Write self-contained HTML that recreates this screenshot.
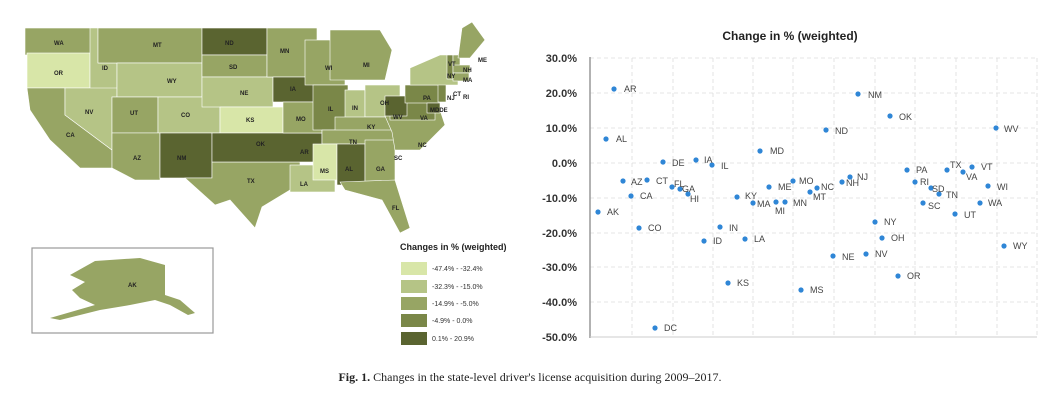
<!DOCTYPE html>
<html><head><meta charset="utf-8"><style>
html,body{margin:0;padding:0;background:#fff;width:1058px;height:404px;overflow:hidden}
svg{display:block}
.sl{font:bold 6px "Liberation Sans",sans-serif;fill:#222}
.pl{font:9px "Liberation Sans",sans-serif;fill:#444}
.yl{font:bold 11px "Liberation Sans",sans-serif;fill:#333}
</style></head><body>
<svg width="1058" height="404" viewBox="0 0 1058 404" xmlns="http://www.w3.org/2000/svg">
<g stroke="#fff" stroke-width="0.6">
<!-- west -->
<rect x="25" y="28" width="70" height="27" fill="#97a564"/>
<rect x="27" y="53" width="63" height="35" fill="#d8e6a8"/>
<polygon points="27,88 65,88 65,115 112,150 112,168 80,168 50,140 30,110" fill="#97a564"/>
<polygon points="90,28 98,28 98,63 117,63 117,97 90,97 90,88" fill="#b5c486"/>
<polygon points="65,88 117,88 117,97 112,97 112,150 65,115" fill="#b5c486"/>
<rect x="98" y="28" width="104" height="35" fill="#97a564"/>
<rect x="117" y="63" width="85" height="34" fill="#b5c486"/>
<rect x="112" y="97" width="46" height="36" fill="#97a564"/>
<rect x="158" y="97" width="62" height="36" fill="#b5c486"/>
<polygon points="112,133 160,133 160,180 135,180 112,168" fill="#97a564"/>
<rect x="160" y="133" width="52" height="45" fill="#5a6430"/>
<rect x="202" y="28" width="65" height="27" fill="#5a6430"/>
<rect x="202" y="55" width="65" height="22" fill="#97a564"/>
<rect x="202" y="77" width="71" height="30" fill="#b5c486"/>
<rect x="220" y="107" width="63" height="26" fill="#d8e6a8"/>
<polygon points="212,178 185,178 215,205 230,200 255,228 262,207 290,190 300,175 300,162 212,162" fill="#97a564"/>
<rect x="212" y="133" width="110" height="29" fill="#5a6430"/>
<!-- central -->
<rect x="267" y="28" width="50" height="49" fill="#97a564"/>
<rect x="273" y="77" width="47" height="25" fill="#5a6430"/>
<rect x="283" y="102" width="39" height="31" fill="#97a564"/>
<rect x="305" y="40" width="40" height="45" fill="#97a564"/>
<polygon points="330,30 380,30 392,50 385,80 330,80" fill="#97a564"/>
<rect x="313" y="85" width="35" height="45" fill="#7a8748"/>
<rect x="345" y="90" width="20" height="35" fill="#b5c486"/>
<rect x="365" y="85" width="35" height="32" fill="#b5c486"/>
<rect x="335" y="117" width="65" height="15" fill="#97a564"/>
<rect x="322" y="130" width="73" height="14" fill="#97a564"/>
<rect x="290" y="165" width="45" height="27" fill="#b5c486"/>
<rect x="313" y="144" width="24" height="36" fill="#d8e6a8"/>
<rect x="337" y="144" width="28" height="41" fill="#5a6430"/>
<rect x="365" y="140" width="30" height="42" fill="#97a564"/>
<polygon points="340,182 395,180 410,228 400,233 382,200 345,190" fill="#97a564"/>
<polygon points="385,116 440,110 445,125 420,150 395,150 392,132" fill="#97a564"/>
<rect x="390" y="100" width="45" height="20" fill="#7a8748"/>
<rect x="385" y="96" width="22" height="20" fill="#5a6430"/>
<rect x="405" y="85" width="35" height="18" fill="#7a8748"/>
<rect x="427" y="103" width="13" height="10" fill="#5a6430"/>
<rect x="438" y="80" width="8" height="22" fill="#7a8748"/>
<polygon points="410,85 410,68 440,55 458,55 458,85" fill="#b5c486"/>
<rect x="447" y="55" width="6" height="24" fill="#7a8748"/>
<rect x="453" y="55" width="7" height="12" fill="#97a564"/>
<polygon points="458,58 462,28 472,22 485,40 470,58" fill="#97a564"/>
<rect x="453" y="65" width="17" height="8" fill="#97a564"/>
<rect x="453" y="73" width="16" height="8" fill="#97a564"/>
</g>
<g class="sl">
<text x="54" y="45">WA</text><text x="54" y="75">OR</text><text x="66" y="137">CA</text><text x="102" y="70">ID</text>
<text x="85" y="114">NV</text><text x="153" y="47">MT</text><text x="167" y="83">WY</text><text x="130" y="115">UT</text>
<text x="181" y="117">CO</text><text x="133" y="160">AZ</text><text x="177" y="160">NM</text><text x="225" y="45">ND</text>
<text x="229" y="69">SD</text><text x="240" y="95">NE</text><text x="246" y="122">KS</text><text x="256" y="146">OK</text>
<text x="300" y="154">AR</text><text x="247" y="183">TX</text><text x="280" y="53">MN</text><text x="290" y="91">IA</text>
<text x="296" y="121">MO</text><text x="325" y="70">WI</text><text x="363" y="67">MI</text><text x="328" y="111">IL</text>
<text x="352" y="110">IN</text><text x="380" y="105">OH</text><text x="367" y="129">KY</text><text x="349" y="144">TN</text>
<text x="320" y="173">MS</text><text x="300" y="186">LA</text><text x="345" y="171">AL</text><text x="376" y="171">GA</text>
<text x="394" y="160">SC</text><text x="418" y="147">NC</text><text x="393" y="119">WV</text><text x="420" y="120">VA</text>
<text x="423" y="100">PA</text><text x="430" y="112">MDDE</text><text x="447" y="100">NJ</text><text x="447" y="78">NY</text>
<text x="478" y="62">ME</text><text x="463" y="72">NH</text><text x="463" y="82">MA</text><text x="453" y="96">CT</text><text x="463" y="99">RI</text>
<text x="448" y="66">VT</text><text x="392" y="210">FL</text>
</g>
<!-- Alaska -->
<rect x="32" y="248" width="181" height="85" fill="#fff" stroke="#999" stroke-width="1.2"/>
<polygon points="70,275 95,261 140,258 165,265 165,295 180,300 195,313 188,315 170,305 155,300 130,305 100,310 60,320 50,318 95,305 80,298 72,290 85,282" fill="#97a564"/>
<text class="sl" x="128" y="287">AK</text>
<!-- legend -->
<text x="400" y="250" style="font:bold 9px 'Liberation Sans',sans-serif;fill:#222">Changes in % (weighted)</text>
<rect x="401" y="262" width="26" height="13" fill="#d8e6a8"/><rect x="401" y="280" width="26" height="13" fill="#b5c486"/>
<rect x="401" y="297" width="26" height="13" fill="#97a564"/><rect x="401" y="314" width="26" height="13" fill="#7a8748"/>
<rect x="401" y="332" width="26" height="13" fill="#5a6430"/>
<g style="font:7px 'Liberation Sans',sans-serif;fill:#333">
<text x="432" y="271">-47.4% - -32.4%</text><text x="432" y="289">-32.3% - -15.0%</text>
<text x="432" y="306">-14.9% - -5.0%</text><text x="432" y="323">-4.9% - 0.0%</text><text x="432" y="341">0.1% - 20.9%</text>
</g>
<!-- scatter -->
<text x="790" y="40" text-anchor="middle" style="font:bold 12px 'Liberation Sans',sans-serif;fill:#222">Change in % (weighted)</text>
<g stroke="#ddd" stroke-width="0.8" stroke-dasharray="4,3">
<line x1="590" y1="58" x2="1037" y2="58"/><line x1="590" y1="93" x2="1037" y2="93"/><line x1="590" y1="128" x2="1037" y2="128"/>
<line x1="590" y1="163" x2="1037" y2="163"/><line x1="590" y1="198" x2="1037" y2="198"/><line x1="590" y1="233" x2="1037" y2="233"/>
<line x1="590" y1="267" x2="1037" y2="267"/><line x1="590" y1="302" x2="1037" y2="302"/>
<line x1="632" y1="58" x2="632" y2="337"/><line x1="673" y1="58" x2="673" y2="337"/><line x1="713" y1="58" x2="713" y2="337"/>
<line x1="753" y1="58" x2="753" y2="337"/><line x1="793" y1="58" x2="793" y2="337"/><line x1="834" y1="58" x2="834" y2="337"/>
<line x1="875" y1="58" x2="875" y2="337"/><line x1="915" y1="58" x2="915" y2="337"/><line x1="956" y1="58" x2="956" y2="337"/>
<line x1="997" y1="58" x2="997" y2="337"/><line x1="1037" y1="58" x2="1037" y2="337"/>
</g>
<line x1="590" y1="57" x2="590" y2="338" stroke="#999" stroke-width="1.5"/>
<line x1="590" y1="337" x2="1037" y2="337" stroke="#ccc" stroke-width="1"/>
<g class="yl" text-anchor="end">
<text x="577" y="62">30.0%</text><text x="577" y="97">20.0%</text><text x="577" y="132">10.0%</text><text x="577" y="167">0.0%</text>
<text x="577" y="202">-10.0%</text><text x="577" y="237">-20.0%</text><text x="577" y="271">-30.0%</text><text x="577" y="306">-40.0%</text><text x="577" y="341">-50.0%</text>
</g>
<g fill="#2f86d6">
<circle cx="614" cy="89" r="2.6"/><circle cx="606" cy="139" r="2.6"/><circle cx="663" cy="162" r="2.6"/><circle cx="696" cy="160" r="2.6"/>
<circle cx="712" cy="165" r="2.6"/><circle cx="760" cy="151" r="2.6"/><circle cx="623" cy="181" r="2.6"/><circle cx="647" cy="180" r="2.6"/>
<circle cx="672" cy="187" r="2.6"/><circle cx="680" cy="189" r="2.6"/><circle cx="688" cy="194" r="2.6"/><circle cx="631" cy="196" r="2.6"/>
<circle cx="737" cy="197" r="2.6"/><circle cx="769" cy="187" r="2.6"/><circle cx="793" cy="181" r="2.6"/><circle cx="753" cy="203" r="2.6"/>
<circle cx="776" cy="202" r="2.6"/><circle cx="785" cy="202" r="2.6"/><circle cx="817" cy="188" r="2.6"/><circle cx="810" cy="192" r="2.6"/>
<circle cx="842" cy="182" r="2.6"/><circle cx="850" cy="177" r="2.6"/><circle cx="858" cy="94" r="2.6"/><circle cx="890" cy="116" r="2.6"/>
<circle cx="826" cy="130" r="2.6"/><circle cx="996" cy="128" r="2.6"/><circle cx="907" cy="170" r="2.6"/><circle cx="915" cy="182" r="2.6"/>
<circle cx="931" cy="188" r="2.6"/><circle cx="939" cy="194" r="2.6"/><circle cx="947" cy="170" r="2.6"/><circle cx="963" cy="172" r="2.6"/>
<circle cx="972" cy="167" r="2.6"/><circle cx="988" cy="186" r="2.6"/><circle cx="923" cy="203" r="2.6"/><circle cx="980" cy="203" r="2.6"/>
<circle cx="955" cy="214" r="2.6"/><circle cx="598" cy="212" r="2.6"/><circle cx="639" cy="228" r="2.6"/><circle cx="720" cy="227" r="2.6"/>
<circle cx="704" cy="241" r="2.6"/><circle cx="745" cy="239" r="2.6"/><circle cx="728" cy="283" r="2.6"/><circle cx="655" cy="328" r="2.6"/>
<circle cx="875" cy="222" r="2.6"/><circle cx="882" cy="238" r="2.6"/><circle cx="833" cy="256" r="2.6"/><circle cx="866" cy="254" r="2.6"/>
<circle cx="898" cy="276" r="2.6"/><circle cx="1004" cy="246" r="2.6"/><circle cx="801" cy="290" r="2.6"/>
</g>
<g class="pl">
<text x="624" y="92">AR</text><text x="616" y="142">AL</text><text x="672" y="166">DE</text><text x="704" y="163">IA</text>
<text x="721" y="169">IL</text><text x="770" y="154">MD</text><text x="631" y="185">AZ</text><text x="656" y="184">CT</text>
<text x="674" y="187">FL</text><text x="682" y="192">GA</text><text x="690" y="202">HI</text><text x="640" y="199">CA</text>
<text x="745" y="199">KY</text><text x="778" y="190">ME</text><text x="799" y="184">MO</text><text x="757" y="207">MA</text>
<text x="775" y="214">MI</text><text x="793" y="206">MN</text><text x="821" y="190">NC</text><text x="813" y="200">MT</text>
<text x="846" y="186">NH</text><text x="857" y="180">NJ</text><text x="868" y="98">NM</text><text x="899" y="120">OK</text>
<text x="835" y="134">ND</text><text x="1004" y="132">WV</text><text x="916" y="173">PA</text><text x="920" y="185">RI</text>
<text x="932" y="192">SD</text><text x="946" y="198">TN</text><text x="950" y="168">TX</text><text x="966" y="180">VA</text>
<text x="981" y="170">VT</text><text x="997" y="190">WI</text><text x="928" y="209">SC</text><text x="988" y="206">WA</text>
<text x="964" y="218">UT</text><text x="607" y="215">AK</text><text x="648" y="231">CO</text><text x="729" y="231">IN</text>
<text x="713" y="244">ID</text><text x="754" y="242">LA</text><text x="737" y="286">KS</text><text x="664" y="331">DC</text>
<text x="884" y="225">NY</text><text x="891" y="241">OH</text><text x="842" y="260">NE</text><text x="875" y="257">NV</text>
<text x="907" y="279">OR</text><text x="1013" y="249">WY</text><text x="810" y="293">MS</text>
</g>
<text x="530" y="381" text-anchor="middle" style="font:12px 'Liberation Serif',serif;fill:#222"><tspan font-weight="bold">Fig. 1.</tspan> Changes in the state-level driver's license acquisition during 2009–2017.</text>
</svg>
</body></html>
